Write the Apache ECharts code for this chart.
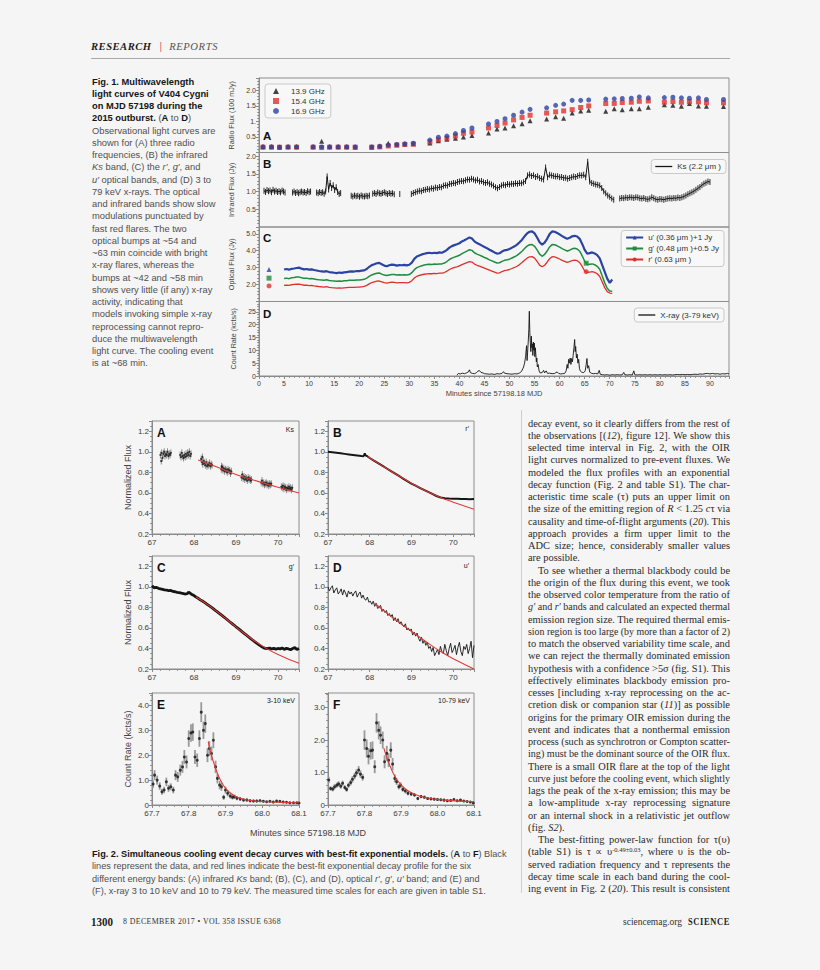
<!DOCTYPE html>
<html>
<head>
<meta charset="utf-8">
<title>V404 Cygni multiwavelength light curves</title>
<script src="https://cdn.jsdelivr.net/npm/echarts@6/dist/echarts.min.js"></script>
<style>
  html, body { margin:0; padding:0; background:#f5f5f5; }
  #page { position:relative; width:820px; height:970px; overflow:hidden; background:#f5f5f5; }
  #chart { position:absolute; left:0; top:0; width:820px; height:970px; }
  .blk { position:absolute; transform-origin:0 0; }
  .ln { white-space:nowrap; height:12.26px; line-height:12.26px; }
  .ln > span { display:inline-block; white-space:nowrap; transform-origin:0 50%; }
  .cap { font-family:"Liberation Sans", Arial, sans-serif; font-size:9.6px; color:#505050; }
  .cap b { color:#161616; }
  .body { font-family:"Liberation Serif", "Times New Roman", serif; font-size:10.4px; color:#2b2b2b; width:202px; }
  sup { font-size:6.5px; line-height:0; vertical-align:3.5px; }
</style>
</head>
<body>
<div id="page">
  <div id="chart"></div>
</div>
<script>
// ======================= DATA =======================
// Fig. 1A radio light curves (100 mJy)
const radioTime = [0.8,2.5,4.1,5.8,7.5, 10.8,12.5,14.1,15.8,17.5,19.2, 22.5,24.1,25.8,27.5,29.1,30.8,
  34.1,35.8,37.5,39.2,40.8,42.5, 45.8,47.5,49.1,50.8,52.5,54.1, 57.4,59.2,60.8,62.5,64.2,65.8,
  69.2,70.9,72.5,74.3,75.9,77.7, 80.9,82.6,84.3,85.9,87.7,89.3, 92.7];
const radio139 = [0.19,0.19,0.18,0.19,0.19, 0.19,0.36,0.19,0.19,0.19,0.18, 0.18,0.21,0.30,0.25,0.27,0.28,
  0.31,0.38,0.43,0.46,0.50,0.55, 0.63,0.76,0.79,0.86,0.93,1.02, 1.08,1.15,1.10,1.27,1.34,1.36,
  1.33,1.41,1.38,1.41,1.41,1.46, 1.54,1.52,1.49,1.58,1.50,1.49, 1.48];
const radio154 = [0.17,0.17,0.17,0.17,0.17, 0.17,0.16,0.17,0.17,0.17,0.17, 0.17,0.18,0.21,0.24,0.26,0.27,
  0.34,0.41,0.46,0.53,0.62,0.66, 0.79,0.87,0.95,1.05,1.13,1.20, 1.27,1.31,1.34,1.38,1.45,1.50,
  1.58,1.58,1.61,1.62,1.65,1.66, 1.62,1.64,1.62,1.64,1.63,1.60, 1.60];
const radio169 = [0.18,0.18,0.17,0.18,0.18, 0.18,0.18,0.18,0.18,0.18,0.18, 0.18,0.20,0.24,0.26,0.28,0.30,
  0.40,0.49,0.53,0.61,0.71,0.79, 0.92,1.00,1.09,1.20,1.30,1.39, 1.44,1.52,1.56,1.68,1.68,1.69,
  1.72,1.73,1.74,1.75,1.79,1.76, 1.77,1.78,1.76,1.75,1.76,1.71, 1.71];

// Fig. 1B infrared Ks (Jy): observing segments (start minute, sampling step, fluxes)
const ksSegStart = [1.0, 6.7, 11.5, 18.4, 22.7, 28.1, 30.4, 72.0];
const ksSegStep  = [0.3, 0.3, 0.3, 0.33, 0.33, 0.3, 0.4, 0.4];
const ksSegFlux  = [
  [1.02,0.99,1.04,1.01,1.03,0.98,1.05,1.00,1.02,0.99,1.01,0.98,1.03,1.00,0.97],
  [0.97,1.00,0.96,0.99,0.95,0.98,1.00,0.97,0.99,0.96,1.01,0.98,1.00],
  [0.97,0.95,0.99,0.96,0.98,0.94,1.00,1.42,1.06,1.24,1.10,1.18,1.04,1.12,0.99,0.93,0.96],
  [0.88,0.86,0.89,0.87,0.88,0.85,0.89,0.87,0.86,0.88,0.87,0.89],
  [0.94,0.96,0.93,0.97,0.95,0.94,0.96,0.98,0.95,0.93,0.96,0.94,0.95,0.92],
  [0.93],
  [0.93,0.96,0.98,1.00,1.02,1.01,1.04,1.05,1.07,1.06,
   1.09,1.08,1.11,1.10,1.13,1.12,1.16,1.18,1.17,1.21,
   1.22,1.24,1.23,1.27,1.28,1.30,1.29,1.32,1.34,1.33,
   1.36,1.34,1.31,1.33,1.28,1.30,1.26,1.24,1.26,1.22,
   1.20,1.16,1.12,1.09,1.13,1.17,1.19,1.18,1.21,1.20,
   1.22,1.21,1.23,1.22,1.24,1.23,1.26,1.30,1.45,1.48,
   1.44,1.46,1.41,1.43,1.38,1.36,1.34,1.68,1.40,1.47,
   1.45,1.44,1.42,1.43,1.40,1.41,1.38,1.39,1.36,1.38,
   1.40,1.42,1.41,1.44,1.46,1.45,1.47,1.40,1.84,1.28,
   1.24,1.22,1.20,1.19,1.17,1.10,1.01,0.95,0.89,0.85,
   0.80,0.77],
  [0.80,0.82,0.81,0.83,0.82,0.84,0.83,0.82,0.84,0.83,
   0.81,0.80,0.82,0.79,0.78,0.80,0.84,0.81,0.78,0.77,
   0.79,0.78,0.77,0.79,0.80,0.81,0.80,0.82,0.81,0.83,
   0.82,0.84,0.86,0.89,0.92,0.95,0.98,1.01,1.05,1.09,
   1.13,1.18,1.22,1.25,1.28,1.27]
];

// Fig. 1C optical (Jy, offsets included), sampled every 0.5 min from 5.0 min
const optStart = 5.0, optStep = 0.5;
const optU = [2.89,2.92,2.88,2.93,2.95,2.98,3.00,2.94,2.90,2.92,
  2.88,2.90,2.86,2.83,2.80,2.78,2.76,2.79,2.74,2.72,
  2.70,2.68,2.71,2.69,2.72,2.74,2.76,2.78,2.77,2.80,
  2.79,2.82,2.84,2.92,3.05,3.15,3.20,3.26,3.28,3.20,
  3.12,3.08,3.14,3.18,3.16,3.12,3.15,3.14,3.16,3.13,
  3.17,3.30,3.52,3.66,3.72,3.78,3.82,3.86,3.88,3.85,
  3.88,3.86,3.90,3.88,3.95,4.05,4.18,4.27,4.33,4.38,
  4.44,4.55,4.62,4.70,4.78,4.72,4.55,4.45,4.38,4.30,
  4.22,4.15,4.06,3.98,3.90,3.83,3.85,3.95,4.02,4.05,
  4.10,4.18,4.26,4.36,4.50,4.65,4.85,5.02,5.12,5.14,
  5.02,4.78,4.50,4.36,4.48,4.70,4.98,5.14,5.12,5.05,
  4.96,4.86,4.78,4.70,4.76,4.85,4.88,4.84,4.70,4.40,
  4.05,3.82,3.86,3.90,3.84,3.74,3.55,3.15,2.75,2.35,
  2.10,2.30];
const optG = [2.36,2.38,2.35,2.40,2.42,2.45,2.44,2.40,2.37,2.38,
  2.35,2.36,2.33,2.30,2.28,2.27,2.25,2.28,2.24,2.22,
  2.21,2.20,2.21,2.20,2.22,2.23,2.25,2.26,2.26,2.27,
  2.27,2.29,2.31,2.38,2.48,2.57,2.62,2.67,2.68,2.62,
  2.56,2.53,2.57,2.60,2.59,2.56,2.58,2.57,2.58,2.56,
  2.59,2.70,2.88,3.00,3.06,3.11,3.15,3.18,3.20,3.19,
  3.21,3.20,3.22,3.22,3.27,3.36,3.48,3.56,3.62,3.67,
  3.73,3.83,3.90,3.98,4.06,4.02,3.88,3.80,3.74,3.67,
  3.60,3.54,3.46,3.40,3.33,3.27,3.29,3.37,3.43,3.46,
  3.50,3.57,3.64,3.72,3.84,3.97,4.13,4.27,4.35,4.36,
  4.26,4.05,3.80,3.67,3.78,3.98,4.22,4.36,4.35,4.29,
  4.21,4.12,4.05,3.98,4.03,4.11,4.14,4.10,3.97,3.70,
  3.38,3.18,3.20,3.22,3.17,3.08,2.90,2.50,2.10,1.78,
  1.62,1.60];
const optR = [1.95,1.97,1.95,1.99,2.01,2.03,2.02,1.99,1.96,1.97,
  1.94,1.95,1.92,1.90,1.88,1.87,1.85,1.88,1.84,1.82,
  1.81,1.79,1.80,1.79,1.81,1.82,1.83,1.84,1.84,1.85,
  1.85,1.87,1.89,1.95,2.04,2.12,2.16,2.20,2.21,2.16,
  2.11,2.08,2.11,2.14,2.13,2.10,2.12,2.11,2.12,2.10,
  2.13,2.23,2.39,2.49,2.54,2.58,2.61,2.63,2.65,2.64,
  2.66,2.65,2.67,2.67,2.71,2.79,2.89,2.96,3.01,3.05,
  3.10,3.18,3.24,3.30,3.36,3.33,3.21,3.14,3.09,3.03,
  2.97,2.91,2.85,2.79,2.73,2.67,2.69,2.77,2.82,2.85,
  2.89,2.95,3.01,3.08,3.18,3.30,3.44,3.56,3.64,3.65,
  3.56,3.37,3.15,3.05,3.14,3.32,3.53,3.65,3.64,3.58,
  3.51,3.43,3.37,3.31,3.35,3.42,3.45,3.41,3.30,3.07,
  2.80,2.72,2.74,2.76,2.72,2.64,2.48,2.15,1.82,1.58,
  1.50,1.48];
const uMarks = [[2.0, 2.89]];
const gMarks = [[2.0, 2.38], [65.3, 3.26]];
const rMarks = [[2.0, 1.92], [65.3, 2.76]];

// Fig. 1D x-ray 3-79 keV count rate (kcts/s): [minute, rate]
const xrayCurve = [
[39.5,0.3],[39.8,1.0],[40.2,0.8],[40.6,1.1],[41.0,0.9],[41.4,1.2],[41.8,1.6],[42.0,2.4],[42.2,1.3],[42.6,1.0],
[43.0,0.9],[43.4,1.3],[43.7,1.9],[44.0,2.1],[44.3,1.4],[44.7,1.2],[45.0,0.9],[45.5,0.8],[46.0,0.7],[46.5,0.8],
[47.0,0.6],[47.5,0.9],[48.0,0.8],[48.5,1.0],[48.8,1.7],[49.0,1.1],[49.5,0.9],[50.0,0.8],[50.5,0.7],[51.0,0.9],
[51.5,0.8],[52.0,1.2],[52.4,1.8],[52.8,3.5],[53.0,5.0],[53.2,7.5],[53.4,11.8],[53.5,6.0],[53.6,9.0],[53.75,14.0],
[53.85,18.0],[53.95,25.2],[54.05,17.0],[54.15,13.0],[54.25,9.5],[54.35,15.5],[54.45,11.0],[54.55,12.5],[54.65,8.0],[54.75,13.2],
[54.85,10.0],[54.95,12.8],[55.05,7.5],[55.15,11.0],[55.25,8.5],[55.35,5.5],[55.45,7.0],[55.55,3.5],[55.7,4.5],[55.9,2.0],
[56.1,1.2],[56.5,1.3],[56.8,2.2],[57.0,1.2],[57.3,2.0],[57.6,1.0],[58.0,1.1],[58.5,0.9],[59.0,1.0],[59.5,1.6],
[59.8,1.0],[60.2,0.8],[60.6,0.9],[61.0,1.0],[61.3,2.0],[61.5,4.5],[61.65,3.0],[61.8,6.5],[61.95,5.0],[62.1,7.0],
[62.25,4.5],[62.4,6.8],[62.55,5.5],[62.7,8.0],[62.85,11.0],[63.0,14.2],[63.1,9.5],[63.2,11.5],[63.35,7.0],[63.5,8.5],
[63.65,5.0],[63.8,6.5],[63.95,3.0],[64.1,2.0],[64.4,1.5],[64.8,1.3],[65.1,2.0],[65.3,4.5],[65.45,6.8],[65.6,3.0],
[65.8,4.0],[66.0,1.5],[66.4,1.0],[66.8,0.9],[67.2,1.0],[67.6,0.8],[67.9,2.2],[68.1,0.7],[68.5,0.5],[69.0,0.4],
[69.5,0.5],[70.0,0.3],[70.5,0.5],[71.0,0.4],[71.5,0.5],[72.0,0.4],[72.5,0.5],[72.8,1.4],[73.0,0.5],[73.5,0.4],
[74.0,0.5],[74.5,0.4],[74.8,2.0],[75.0,0.5],[75.5,0.4],[76.0,0.5],[76.5,0.4],[77.0,0.5],[77.5,0.4],[78.0,0.5],
[78.5,0.4],[79.0,0.5],[79.5,0.4],[80.0,0.5],[80.5,0.4],[81.0,0.5],[81.5,0.4],[82.0,0.5],[82.5,0.4],[83.0,0.5],
[83.5,0.6],[84.0,0.5],[84.5,0.6],[85.0,0.5],[85.5,0.6],[86.0,0.5],[86.5,0.6],[87.0,0.7],[87.5,0.6],[88.0,0.8],
[88.5,0.7],[89.0,0.9],[89.5,1.0],[90.0,0.8],[90.5,1.0],[91.0,0.8],[91.5,0.9],[92.0,0.7],[92.5,0.9],[93.0,0.8],
[93.5,1.0],[93.8,0.8]];

// Fig. 2A Ks normalized flux: [minute, flux]
const ksDecay = [
[67.20,0.97],[67.22,0.91],[67.23,0.99],[67.25,0.94],[67.27,0.98],[67.29,1.00],[67.31,0.96],[67.33,0.98],[67.35,0.97],[67.37,1.00],[67.39,0.96],[67.41,0.98],[67.43,0.97],[67.45,0.99],
[67.67,0.97],[67.69,0.95],[67.71,0.99],[67.73,0.96],[67.75,0.94],[67.77,0.97],[67.79,0.95],[67.81,0.98],[67.83,0.96],[67.85,0.99],[67.87,0.97],[67.89,1.00],[67.91,0.96],[67.93,0.98],
[68.17,0.93],[68.19,0.90],[68.20,0.95],[68.21,0.88],[68.23,0.91],[68.25,0.89],[68.27,0.87],[68.29,0.90],[68.31,0.86],[68.33,0.88],[68.35,0.87],[68.37,0.89],[68.39,0.86],[68.41,0.88],[68.43,0.87],
[68.65,0.83],[68.66,0.86],[68.67,0.85],[68.69,0.82],[68.71,0.84],[68.73,0.81],[68.75,0.83],[68.77,0.82],[68.79,0.80],[68.81,0.83],[68.83,0.81],[68.85,0.82],[68.87,0.79],[68.89,0.81],
[69.13,0.75],[69.15,0.78],[69.17,0.74],[69.19,0.76],[69.21,0.73],[69.23,0.75],[69.25,0.74],[69.27,0.72],[69.29,0.75],[69.31,0.73],[69.33,0.74],[69.35,0.72],[69.37,0.73],
[69.60,0.70],[69.62,0.72],[69.64,0.69],[69.66,0.70],[69.68,0.68],[69.70,0.69],[69.72,0.70],[69.74,0.68],[69.76,0.69],[69.78,0.67],[69.80,0.69],[69.82,0.68],[69.84,0.69],
[70.08,0.66],[70.10,0.65],[70.12,0.67],[70.14,0.64],[70.16,0.66],[70.18,0.65],[70.20,0.63],[70.22,0.65],[70.24,0.64],[70.26,0.66],[70.28,0.64],[70.30,0.65],[70.32,0.63],[70.34,0.65]];
const ksFit = [[68.1,0.92],[68.5,0.86],[69.0,0.78],[69.5,0.715],[70.0,0.655],[70.5,0.60]];

// Fig. 2B r' normalized flux
const rDecay = [[67.0,1.00],[67.1,0.995],[67.2,0.99],[67.3,0.985],[67.4,0.98],[67.5,0.975],[67.6,0.97],[67.7,0.965],[67.8,0.96],[67.85,0.958],
[67.87,0.97],[67.88,0.985],[67.9,0.965],[67.95,0.955],[68.0,0.94],[68.1,0.915],[68.2,0.89],[68.3,0.865],[68.4,0.84],[68.5,0.815],
[68.6,0.79],[68.7,0.765],[68.8,0.74],[68.9,0.715],[69.0,0.69],[69.1,0.67],[69.2,0.65],[69.3,0.63],[69.4,0.61],[69.5,0.59],
[69.6,0.57],[69.7,0.555],[69.8,0.548],[69.9,0.545],[70.0,0.543],[70.1,0.542],[70.2,0.540],[70.3,0.541],[70.4,0.539],[70.5,0.540]];
const rFit = [[67.95,0.955],[68.2,0.89],[68.5,0.815],[68.8,0.742],[69.1,0.672],[69.4,0.61],[69.7,0.555],[70.0,0.51],[70.25,0.475],[70.5,0.44]];

// Fig. 2C g' normalized flux
const gDecay = [[67.00,1.01],[67.05,0.99],[67.10,0.995],[67.15,0.985],[67.20,0.98],[67.25,0.975],[67.30,0.97],[67.35,0.968],[67.40,0.962],[67.45,0.965],
[67.50,0.955],[67.55,0.952],[67.60,0.946],[67.65,0.943],[67.70,0.938],[67.75,0.934],[67.80,0.93],[67.84,0.934],[67.87,0.948],[67.90,0.94],
[67.95,0.925],[68.00,0.915],[68.05,0.90],[68.10,0.888],[68.15,0.873],[68.20,0.862],[68.25,0.848],[68.30,0.833],[68.35,0.82],[68.40,0.805],
[68.45,0.79],[68.50,0.773],[68.55,0.758],[68.60,0.742],[68.65,0.726],[68.70,0.71],[68.75,0.694],[68.80,0.677],[68.85,0.66],[68.90,0.644],
[68.95,0.628],[69.00,0.611],[69.05,0.595],[69.10,0.578],[69.15,0.561],[69.20,0.545],[69.25,0.529],[69.30,0.512],[69.35,0.496],[69.40,0.48],
[69.45,0.465],[69.50,0.449],[69.55,0.434],[69.60,0.42],[69.65,0.408],[69.70,0.40],[69.75,0.398],[69.80,0.404],[69.85,0.395],[69.90,0.401],
[69.95,0.393],[70.00,0.40],[70.05,0.396],[70.10,0.404],[70.15,0.391],[70.20,0.401],[70.25,0.395],[70.30,0.388],[70.35,0.40],[70.40,0.408],
[70.45,0.39],[70.50,0.40]];
const gFit = [[68.05,0.90],[68.4,0.805],[68.8,0.677],[69.2,0.545],[69.6,0.43],[70.0,0.34],[70.5,0.255]];

// Fig. 2D u' normalized flux, sampled every 0.035 min from 67.0
const uStart = 67.0, uStep = 0.035;
const uDecay = [1.00,0.96,0.99,1.01,0.94,0.97,0.99,0.93,0.95,0.98,
  0.92,0.97,0.94,0.90,0.96,0.93,0.95,0.91,0.94,0.96,
  0.90,0.93,0.95,0.89,0.92,0.88,0.87,0.90,0.85,0.86,
  0.83,0.86,0.81,0.84,0.79,0.80,0.82,0.76,0.78,0.75,
  0.77,0.72,0.74,0.71,0.73,0.67,0.70,0.66,0.69,0.64,
  0.66,0.63,0.61,0.64,0.58,0.60,0.57,0.59,0.53,0.56,
  0.52,0.55,0.50,0.47,0.51,0.45,0.48,0.43,0.46,0.40,
  0.42,0.37,0.41,0.33,0.36,0.39,0.34,0.42,0.37,0.35,
  0.44,0.38,0.33,0.40,0.45,0.36,0.39,0.43,0.34,0.41,
  0.46,0.37,0.33,0.42,0.39,0.44,0.35,0.40,0.47,0.31,
  0.43];
const uFit = [[68.12,0.84],[68.5,0.715],[68.9,0.595],[69.3,0.48],[69.7,0.37],[70.1,0.28],[70.5,0.20]];

// Fig. 2E x-ray 3-10 keV (kcts/s)
const eTime = [67.703,67.707,67.714,67.721,67.727,67.733,67.739,67.745,67.751,67.758,
  67.764,67.770,67.777,67.783,67.788,67.794,67.800,67.806,67.811,67.817,
  67.823,67.829,67.834,67.840,67.845,67.851,67.856,67.862,67.867,67.873,
  67.878,67.884,67.889,67.895,67.900,67.906,67.913,67.919,67.924,67.931,
  67.940,67.949,67.958,67.967,67.976,67.985,67.994,68.003,68.012,68.021,
  68.030,68.039,68.048,68.057,68.066,68.075,68.085,68.094,68.100];
const eRate = [0.84,1.20,1.00,0.76,0.53,0.60,0.93,0.67,0.73,0.60,
  1.20,1.13,1.40,1.53,1.93,1.73,2.67,2.89,2.93,1.93,
  1.80,2.67,3.73,3.00,3.27,2.00,2.27,2.07,2.60,1.53,
  1.07,0.80,0.73,0.31,0.60,0.47,0.36,0.31,0.33,0.27,
  0.24,0.20,0.20,0.17,0.16,0.16,0.17,0.15,0.13,0.15,
  0.12,0.16,0.15,0.12,0.11,0.09,0.09,0.09,0.08];
const eErr = [0.15,0.20,0.18,0.15,0.12,0.13,0.17,0.14,0.14,0.13,
  0.20,0.20,0.22,0.24,0.28,0.26,0.33,0.35,0.35,0.28,
  0.27,0.33,0.40,0.35,0.37,0.28,0.30,0.28,0.32,0.25,
  0.20,0.17,0.16,0.10,0.14,0.12,0.10,0.09,0.09,0.08,
  0.08,0.07,0.07,0.06,0.06,0.06,0.06,0.05,0.05,0.05,
  0.05,0.05,0.05,0.05,0.04,0.04,0.04,0.04,0.04];
const eFit = [[67.853,2.55],[67.86,2.1],[67.87,1.6],[67.88,1.2],[67.89,0.9],[67.9,0.68],[67.915,0.46],[67.93,0.33],[67.95,0.23],[67.98,0.16],[68.02,0.12],[68.06,0.10],[68.1,0.09]];

// Fig. 2F x-ray 10-79 keV (kcts/s)
const fTime = [67.702,67.707,67.713,67.718,67.724,67.729,67.735,67.740,67.746,67.751,
  67.756,67.762,67.767,67.773,67.778,67.784,67.789,67.795,67.800,67.806,
  67.811,67.817,67.822,67.828,67.833,67.839,67.844,67.850,67.855,67.861,
  67.866,67.872,67.877,67.883,67.888,67.894,67.899,67.905,67.912,67.919,
  67.928,67.937,67.946,67.955,67.964,67.973,67.982,67.991,68.000,68.009,
  68.018,68.027,68.036,68.045,68.054,68.063,68.072,68.081,68.090,68.098];
const fRate = [0.77,0.51,0.49,0.56,0.61,0.65,0.58,0.67,0.54,0.48,
  0.61,0.69,0.79,0.89,0.99,1.08,0.95,0.85,2.00,1.74,
  1.50,1.67,1.69,1.18,2.53,2.30,2.15,2.00,1.33,1.59,
  1.38,1.69,1.26,0.82,0.72,0.56,0.61,0.48,0.43,0.36,
  0.34,0.31,0.20,0.26,0.24,0.20,0.19,0.18,0.17,0.16,
  0.15,0.13,0.14,0.17,0.13,0.15,0.12,0.11,0.09,0.06];
const fErr = [0.10,0.07,0.07,0.08,0.08,0.08,0.08,0.08,0.07,0.07,
  0.08,0.09,0.10,0.10,0.11,0.12,0.11,0.10,0.30,0.28,
  0.25,0.27,0.27,0.20,0.30,0.28,0.27,0.26,0.20,0.23,
  0.21,0.24,0.19,0.12,0.10,0.08,0.09,0.07,0.07,0.06,
  0.06,0.05,0.05,0.05,0.05,0.04,0.04,0.04,0.04,0.04,
  0.04,0.04,0.04,0.04,0.04,0.04,0.03,0.03,0.03,0.03];
const fFit = [[67.853,1.75],[67.86,1.5],[67.87,1.2],[67.88,0.95],[67.89,0.76],[67.9,0.62],[67.915,0.47],[67.93,0.37],[67.95,0.28],[67.98,0.20],[68.02,0.15],[68.06,0.12],[68.1,0.10]];

// Tick labels
const timeTicks1 = [0,5,10,15,20,25,30,35,40,45,50,55,60,65,70,75,80,85,90];
const radioTicks = [0.5,1,1.5,2];       const radioTickText = ['0.5','1.','1.5','2.0'];
const irTicks = [0.5,1,1.5,2];          const irTickText = ['0.5','1.0','1.5','2.0'];
const optTicks = [2,3,4,5];             const optTickText = ['2.0','3.0','4.0','5.0'];
const xrTicks = [0,5,10,15,20,25];      const xrTickText = ['0','5','10','15','20','25'];
const normTicks = [0.2,0.4,0.6,0.8,1.0,1.2]; const normTickText = ['0.2','0.4','0.6','0.8','1.0','1.2'];
const decayTimeTicks = [67,68,69,70];   const decayTimeText = ['67','68','69','70'];
const xrayTimeTicks = [67.7,67.8,67.9,68.0,68.1]; const xrayTimeText = ['67.7','67.8','67.9','68.0','68.1'];
const eTicks = [0,1,2,3,4];             const eTickText = ['0','1.0','2.0','3.0','4.0'];
const fTicks = [0,1,2,3];               const fTickText = ['0','1.0','2.0','3.0'];

// Texts
const headerLeft = 'RESEARCH', headerRight = 'REPORTS';
const fig1Caption = [
  '<b>Fig. 1. Multiwavelength</b>',
  '<b>light curves of V404 Cygni</b>',
  '<b>on MJD 57198 during the</b>',
  '<b>2015 outburst.</b> (<b>A</b> to <b>D</b>)',
  'Observational light curves are',
  'shown for (A) three radio',
  'frequencies, (B) the infrared',
  '<i>Ks</i> band, (C) the <i>r′</i>, <i>g′</i>, and',
  '<i>u′</i> optical bands, and (D) 3 to',
  '79 keV x-rays. The optical',
  'and infrared bands show slow',
  'modulations punctuated by',
  'fast red flares. The two',
  'optical bumps at ~54 and',
  '~63 min coincide with bright',
  'x-ray flares, whereas the',
  'bumps at ~42 and ~58 min',
  'shows very little (if any) x-ray',
  'activity, indicating that',
  'models invoking simple x-ray',
  'reprocessing cannot repro-',
  'duce the multiwavelength',
  'light curve. The cooling event',
  'is at ~68 min.'
];
const fig2Caption = [
  '<b>Fig. 2. Simultaneous cooling event decay curves with best-fit exponential models.</b> (<b>A</b> to <b>F</b>) Black',
  'lines represent the data, and red lines indicate the best-fit exponential decay profile for the six',
  'different energy bands: (A) infrared <i>Ks</i> band; (B), (C), and (D), optical <i>r′</i>, <i>g′</i>, <i>u′</i> band; and (E) and',
  '(F), x-ray 3 to 10 keV and 10 to 79 keV. The measured time scales for each are given in table S1.'
];
const bodyLines = [
  'decay event, so it clearly differs from the rest of',
  'the observations [(<i>12</i>), figure 12]. We show this',
  'selected time interval in Fig. 2, with the OIR',
  'light curves normalized to pre-event fluxes. We',
  'modeled the flux profiles with an exponential',
  'decay function (Fig. 2 and table S1). The char-',
  'acteristic time scale (τ) puts an upper limit on',
  'the size of the emitting region of <i>R</i> &lt; 1.25 <i>c</i>τ via',
  'causality and time-of-flight arguments (<i>20</i>). This',
  'approach provides a firm upper limit to the',
  'ADC size; hence, considerably smaller values',
  'are possible.',
  'To see whether a thermal blackbody could be',
  'the origin of the flux during this event, we took',
  'the observed color temperature from the ratio of',
  '<i>g′</i> and <i>r′</i> bands and calculated an expected thermal',
  'emission region size. The required thermal emis-',
  'sion region is too large (by more than a factor of 2)',
  'to match the observed variability time scale, and',
  'we can reject the thermally dominated emission',
  'hypothesis with a confidence &gt;5σ (fig. S1). This',
  'effectively eliminates blackbody emission pro-',
  'cesses [including x-ray reprocessing on the ac-',
  'cretion disk or companion star (<i>11</i>)] as possible',
  'origins for the primary OIR emission during the',
  'event and indicates that a nonthermal emission',
  'process (such as synchrotron or Compton scatter-',
  'ing) must be the dominant source of the OIR flux.',
  'There is a small OIR flare at the top of the light',
  'curve just before the cooling event, which slightly',
  'lags the peak of the x-ray emission; this may be',
  'a low-amplitude x-ray reprocessing signature',
  'or an internal shock in a relativistic jet outflow',
  '(fig. <i>S2</i>).',
  'The best-fitting power-law function for τ(υ)',
  '(table S1) is τ ∝ υ<sup>-0.49±0.03</sup>, where υ is the ob-',
  'served radiation frequency and τ represents the',
  'decay time scale in each band during the cool-',
  'ing event in Fig. 2 (<i>20</i>). This result is consistent'
];
const bodyIndented = [12, 34];
const bodyParagraphEnds = [11, 33];

// ======================= TEXT LAYOUT =======================
const page = document.getElementById('page');
function el(tag, css, html) {
  const d = document.createElement(tag);
  d.style.cssText = css; if (html !== undefined) d.innerHTML = html;
  page.appendChild(d); return d;
}
function block(lines, cls, left, top) {
  const b = document.createElement('div');
  b.className = 'blk ' + cls; b.style.left = left + 'px'; b.style.top = top + 'px';
  const spans = [];
  lines.forEach(h => {
    const ln = document.createElement('div'); ln.className = 'ln';
    const sp = document.createElement('span'); sp.innerHTML = h;
    ln.appendChild(sp); b.appendChild(ln); spans.push(sp);
  });
  page.appendChild(b);
  return spans;
}
function fitRagged(spans, target) {
  let m = 0; spans.forEach(s => { m = Math.max(m, s.getBoundingClientRect().width); });
  const k = target / m; spans.forEach(s => { s.style.transform = 'scaleX(' + k + ')'; });
}
function fitOne(node, target) {
  const w = node.getBoundingClientRect().width;
  node.style.transform = 'scaleX(' + (target / w) + ')';
}

// header
el('div', 'position:absolute;left:91px;top:40px;height:14px;line-height:14px;white-space:nowrap;font-family:"Liberation Serif",serif;font-size:10.6px;',
  '<span style="display:inline-block;font-weight:bold;font-style:italic;letter-spacing:0.5px;color:#1e1e1e">' + headerLeft + '</span>' +
  '<span style="display:inline-block;color:#d9646a;margin:0 7px 0 8px;font-family:\'Liberation Sans\',sans-serif;font-size:10px">|</span>' +
  '<span style="display:inline-block;font-style:italic;letter-spacing:0.6px;color:#555">' + headerRight + '</span>');
el('div', 'position:absolute;left:91px;top:58px;width:639px;height:0;border-top:1.6px solid #a8a8a8');
// divider beside the body column
el('div', 'position:absolute;left:521px;top:410px;width:0;height:483px;border-left:1px solid #cfcfcf');

const cap1 = block(fig1Caption, 'cap', 91.5, 75.6);
const cap2 = block(fig2Caption, 'cap', 91.5, 848);
cap2.forEach(s => { s.style.fontSize = '9.8px'; });
const body = block(bodyLines, 'body', 528, 417.5);

// footer
const ft1 = el('div', 'position:absolute;left:91px;top:915px;height:14px;line-height:14px;white-space:nowrap;font-family:"Liberation Serif",serif;font-weight:bold;font-size:12px;color:#1e1e1e;transform-origin:0 50%', '1300');
const ft2 = el('div', 'position:absolute;left:123px;top:915px;height:14px;line-height:14px;white-space:nowrap;font-family:"Liberation Serif",serif;font-size:7.8px;letter-spacing:0.4px;color:#333;transform-origin:0 50%', '8 DECEMBER 2017 • VOL 358 ISSUE 6368');
const ft3 = el('div', 'position:absolute;left:623px;top:915px;height:14px;line-height:14px;white-space:nowrap;font-family:"Liberation Serif",serif;font-size:9.6px;color:#333;transform-origin:0 50%', 'sciencemag.org');
const ft4 = el('div', 'position:absolute;left:688px;top:915px;height:14px;line-height:14px;white-space:nowrap;font-family:"Liberation Serif",serif;font-weight:bold;font-size:9.6px;letter-spacing:0.7px;color:#1e1e1e;transform-origin:0 50%', 'SCIENCE');

function layoutText() {
  fitRagged(cap1, 123.5);
  fitRagged(cap2, 414.5);
  body.forEach((sp, i) => {
    const indent = bodyIndented.indexOf(i) >= 0 ? 10 : 0;
    sp.style.marginLeft = indent + 'px';
    const target = 202 - indent;
    const w = sp.getBoundingClientRect().width;
    if (w > target) { sp.style.transform = 'scaleX(' + (target / w) + ')'; }
    else if (bodyParagraphEnds.indexOf(i) < 0) {
      const n = (sp.textContent.match(/ /g) || []).length;
      if (n > 0) sp.style.wordSpacing = ((target - w) / n) + 'px';
    }
  });
  fitOne(ft1, 22); fitOne(ft2, 158); fitOne(ft3, 59); fitOne(ft4, 42);
}
layoutText();

// ======================= CHART =======================
const AXC = '#8a8a8a', LBC = '#3c3c3c';
const FONT = '"Liberation Sans", Arial, sans-serif';
const NARROW = '"Liberation Sans Narrow", "Liberation Sans", Arial, sans-serif';
function labelFn(vals, texts) {
  return function (v) {
    for (let i = 0; i < vals.length; i++) if (Math.abs(v - vals[i]) < 1e-6) return texts[i];
    return '';
  };
}
function yAx(gi, min, max, interval, vals, texts, minorSplit, name, nameGap, fs, nfs) {
  return {
    gridIndex: gi, type: 'value', min: min, max: max, interval: interval,
    axisLine: { show: true, onZero: false, lineStyle: { color: AXC, width: 1 } },
    axisTick: { show: true, length: 3, inside: false, lineStyle: { color: AXC } },
    minorTick: { show: true, splitNumber: minorSplit, length: 1.8, lineStyle: { color: AXC } },
    splitLine: { show: false }, minorSplitLine: { show: false },
    axisLabel: { fontSize: fs, color: LBC, margin: 3, fontFamily: FONT, formatter: labelFn(vals, texts), hideOverlap: false },
    name: name || '', nameLocation: 'middle', nameGap: nameGap, nameRotate: 90,
    nameTextStyle: { fontSize: nfs, color: '#444', fontFamily: FONT }
  };
}
function xAx(gi, min, max, interval, vals, texts, show, fs, name, nameGap, nfs) {
  return {
    gridIndex: gi, type: 'value', min: min, max: max, interval: interval,
    axisLine: { show: show, onZero: false, lineStyle: { color: AXC, width: 1 } },
    axisTick: { show: show, length: 3, lineStyle: { color: AXC } },
    minorTick: { show: show, splitNumber: 5, length: 1.8, lineStyle: { color: AXC } },
    splitLine: { show: false }, minorSplitLine: { show: false },
    axisLabel: { show: show, fontSize: fs, color: LBC, margin: 4, fontFamily: FONT, formatter: labelFn(vals, texts), hideOverlap: false },
    name: name || '', nameLocation: 'middle', nameGap: nameGap || 15,
    nameTextStyle: { fontSize: nfs || 8, color: '#444', fontFamily: FONT }
  };
}

const gridBoxes = [
  { left: 259, top: 78, width: 470, height: 74.5 },
  { left: 259, top: 152.5, width: 470, height: 74.5 },
  { left: 259, top: 227, width: 470, height: 74.5 },
  { left: 259, top: 301.5, width: 470, height: 74.5 },
  { left: 152, top: 421, width: 147, height: 113 },
  { left: 328, top: 421, width: 146, height: 113 },
  { left: 152, top: 556, width: 147, height: 113 },
  { left: 328, top: 556, width: 146, height: 113 },
  { left: 152, top: 693, width: 147, height: 112 },
  { left: 328, top: 693, width: 146, height: 112 }
].map(g => Object.assign({ show: true, borderColor: '#8d8d8d', borderWidth: 1, backgroundColor: 'transparent', containLabel: false, outerBoundsMode: 'none' }, g));

const timeText1 = timeTicks1.map(String);
const xAxes = [
  xAx(0, 0, 93.8, 5, timeTicks1, timeText1, false, 7),
  xAx(1, 0, 93.8, 5, timeTicks1, timeText1, false, 7),
  xAx(2, 0, 93.8, 5, timeTicks1, timeText1, false, 7),
  xAx(3, 0, 93.8, 5, timeTicks1, timeText1, true, 7, 'Minutes since 57198.18 MJD', 13, 7.5),
  xAx(4, 67, 70.5, 1, decayTimeTicks, decayTimeText, true, 8),
  xAx(5, 67, 70.5, 1, decayTimeTicks, decayTimeText, true, 8),
  xAx(6, 67, 70.5, 1, decayTimeTicks, decayTimeText, true, 8),
  xAx(7, 67, 70.5, 1, decayTimeTicks, decayTimeText, true, 8),
  xAx(8, 67.7, 68.1, 0.1, xrayTimeTicks, xrayTimeText, true, 8),
  xAx(9, 67.7, 68.1, 0.1, xrayTimeTicks, xrayTimeText, true, 8)
];
const yAxes = [
  yAx(0, 0, 2.4, 0.5, radioTicks, radioTickText, 5, 'Radio Flux (100 mJy)', 21, 7, 7.2),
  yAx(1, 0, 2.1, 0.5, irTicks, irTickText, 5, 'Infrared Flux (Jy)', 21, 7, 7.2),
  yAx(2, 1, 5.4, 1, optTicks, optTickText, 5, 'Optical Flux (Jy)', 21, 7, 7.2),
  yAx(3, 0, 29, 5, xrTicks, xrTickText, 5, 'Count Rate (kcts/s)', 21, 7, 7.2),
  yAx(4, 0.2, 1.3, 0.2, normTicks, normTickText, 4, 'Normalized Flux', 20, 8, 9),
  yAx(5, 0.2, 1.3, 0.2, normTicks, normTickText, 4, '', 20, 8, 9),
  yAx(6, 0.2, 1.3, 0.2, normTicks, normTickText, 4, 'Normalized Flux', 20, 8, 9),
  yAx(7, 0.2, 1.3, 0.2, normTicks, normTickText, 4, '', 20, 8, 9),
  yAx(8, 0, 4.5, 1, eTicks, eTickText, 5, 'Count Rate (kcts/s)', 20, 8, 9),
  yAx(9, 0, 3.45, 1, fTicks, fTickText, 5, '', 20, 8, 9)
];

// build data tables from the named arrays
const ksData = [];
ksSegFlux.forEach((seg, k) => {
  seg.forEach((v, i) => ksData.push([ksSegStart[k] + i * ksSegStep[k], v]));
  ksData.push([ksSegStart[k] + seg.length * ksSegStep[k], '-']);
});
const optSeries = arr => arr.map((v, i) => [optStart + i * optStep, v]);
const uDecayData = uDecay.map((v, i) => [uStart + i * uStep, v]);
const zip3 = (t, v, e) => t.map((x, i) => [x, v[i], e[i]]);

const RED = '#e0302c', BLUE = '#2b44a3', GREEN = '#1f8c3f', BLACK = '#151515', FITRED = '#e23b35';

function errBars(xi, data) {
  return {
    type: 'custom', xAxisIndex: xi, yAxisIndex: xi, data: data, z: 2, silent: true,
    encode: { x: 0, y: 1 },
    renderItem: function (params, api) {
      const x = api.value(0), v = api.value(1), e = api.value(2);
      const p1 = api.coord([x, v - e]), p2 = api.coord([x, v + e]);
      return { type: 'line', shape: { x1: p1[0], y1: p1[1], x2: p2[0], y2: p2[1] }, style: { stroke: '#9a9a9a', lineWidth: 1.8 } };
    }
  };
}

const series = [
  // Fig 1A
  { name: '13.9 GHz', type: 'scatter', xAxisIndex: 0, yAxisIndex: 0, symbol: 'triangle', symbolSize: 5, itemStyle: { color: BLACK }, data: radioTime.map((t, i) => [t, radio139[i]]), z: 3 },
  { name: '15.4 GHz', type: 'scatter', xAxisIndex: 0, yAxisIndex: 0, symbol: 'rect', symbolSize: 5, itemStyle: { color: RED }, data: radioTime.map((t, i) => [t, radio154[i]]), z: 4 },
  { name: '16.9 GHz', type: 'scatter', xAxisIndex: 0, yAxisIndex: 0, symbol: 'circle', symbolSize: 5, itemStyle: { color: BLUE }, data: radioTime.map((t, i) => [t, radio169[i]]), z: 5 },
  // Fig 1B
  { name: 'Ks (2.2 μm )', type: 'line', xAxisIndex: 1, yAxisIndex: 1, data: ksData, symbol: 'rect', symbolSize: [0.9, 6], showSymbol: true, showAllSymbol: true,
    lineStyle: { color: BLACK, width: 1 }, itemStyle: { color: BLACK }, connectNulls: false },
  // Fig 1C
  { name: "u' (0.36 μm )+1 Jy", type: 'line', xAxisIndex: 2, yAxisIndex: 2, data: optSeries(optU), symbol: 'triangle', symbolSize: 5, showSymbol: false,
    lineStyle: { color: BLUE, width: 2.2 }, itemStyle: { color: BLUE } },
  { name: "g' (0.48 μm )+0.5 Jy", type: 'line', xAxisIndex: 2, yAxisIndex: 2, data: optSeries(optG), symbol: 'rect', symbolSize: 5, showSymbol: false,
    lineStyle: { color: GREEN, width: 1.5 }, itemStyle: { color: GREEN } },
  { name: "r' (0.63 μm )", type: 'line', xAxisIndex: 2, yAxisIndex: 2, data: optSeries(optR), symbol: 'circle', symbolSize: 5, showSymbol: false,
    lineStyle: { color: RED, width: 1.3 }, itemStyle: { color: RED } },
  { type: 'scatter', xAxisIndex: 2, yAxisIndex: 2, symbol: 'triangle', symbolSize: 5, itemStyle: { color: BLUE }, data: uMarks, z: 5 },
  { type: 'scatter', xAxisIndex: 2, yAxisIndex: 2, symbol: 'rect', symbolSize: 5, itemStyle: { color: GREEN }, data: gMarks, z: 5 },
  { type: 'scatter', xAxisIndex: 2, yAxisIndex: 2, symbol: 'circle', symbolSize: 5, itemStyle: { color: RED }, data: rMarks, z: 5 },
  // Fig 1D
  { name: 'X-ray (3-79 keV)', type: 'line', xAxisIndex: 3, yAxisIndex: 3, data: xrayCurve, symbol: 'none', lineStyle: { color: BLACK, width: 0.9 }, itemStyle: { color: BLACK } },
  // Fig 2A
  { type: 'scatter', xAxisIndex: 4, yAxisIndex: 4, data: ksDecay, symbol: 'rect', symbolSize: [0.9, 7], itemStyle: { color: '#6a6a6a' }, z: 2 },
  { type: 'scatter', xAxisIndex: 4, yAxisIndex: 4, data: ksDecay, symbol: 'circle', symbolSize: 2.2, itemStyle: { color: BLACK }, z: 3 },
  { type: 'line', xAxisIndex: 4, yAxisIndex: 4, data: ksFit, smooth: true, symbol: 'none', lineStyle: { color: FITRED, width: 1.1 }, z: 4 },
  // Fig 2B
  { type: 'line', xAxisIndex: 5, yAxisIndex: 5, data: rDecay, symbol: 'none', lineStyle: { color: BLACK, width: 2 }, z: 2 },
  { type: 'line', xAxisIndex: 5, yAxisIndex: 5, data: rFit, smooth: true, symbol: 'none', lineStyle: { color: FITRED, width: 1.1 }, z: 4 },
  // Fig 2C
  { type: 'line', xAxisIndex: 6, yAxisIndex: 6, data: gDecay, symbol: 'none', lineStyle: { color: BLACK, width: 2.8 }, z: 2 },
  { type: 'line', xAxisIndex: 6, yAxisIndex: 6, data: gFit, smooth: true, symbol: 'none', lineStyle: { color: FITRED, width: 1.1 }, z: 4 },
  // Fig 2D
  { type: 'line', xAxisIndex: 7, yAxisIndex: 7, data: uDecayData, symbol: 'none', lineStyle: { color: BLACK, width: 0.9 }, z: 2 },
  { type: 'line', xAxisIndex: 7, yAxisIndex: 7, data: uFit, smooth: true, symbol: 'none', lineStyle: { color: FITRED, width: 1.1 }, z: 4 },
  // Fig 2E
  errBars(8, zip3(eTime, eRate, eErr)),
  { type: 'scatter', xAxisIndex: 8, yAxisIndex: 8, data: eTime.map((t, i) => [t, eRate[i]]), symbol: 'circle', symbolSize: 3, itemStyle: { color: BLACK }, z: 3 },
  { type: 'line', xAxisIndex: 8, yAxisIndex: 8, data: eFit, smooth: true, symbol: 'none', lineStyle: { color: FITRED, width: 1.1 }, z: 4 },
  // Fig 2F
  errBars(9, zip3(fTime, fRate, fErr)),
  { type: 'scatter', xAxisIndex: 9, yAxisIndex: 9, data: fTime.map((t, i) => [t, fRate[i]]), symbol: 'circle', symbolSize: 3, itemStyle: { color: BLACK }, z: 3 },
  { type: 'line', xAxisIndex: 9, yAxisIndex: 9, data: fFit, smooth: true, symbol: 'none', lineStyle: { color: FITRED, width: 1.1 }, z: 4 }
];

const legendBase = {
  borderColor: '#c9c9c9', borderWidth: 1, borderRadius: 3, backgroundColor: 'rgba(250,250,250,0.6)',
  textStyle: { fontSize: 8, color: '#333', fontFamily: FONT }, selectedMode: false, orient: 'vertical'
};
const legends = [
  Object.assign({}, legendBase, { left: 265, top: 84, itemGap: 2, padding: [3, 6, 3, 8], itemWidth: 6, itemHeight: 6,
    data: [{ name: '13.9 GHz', icon: 'triangle' }, { name: '15.4 GHz', icon: 'rect' }, { name: '16.9 GHz', icon: 'circle' }],
    textStyle: { fontSize: 8, color: '#333', fontFamily: FONT, padding: [0, 0, 0, 7] } }),
  Object.assign({}, legendBase, { right: 94, top: 159.5, padding: [3, 5, 3, 4], itemWidth: 17, itemHeight: 1.3,
    data: [{ name: 'Ks (2.2 μm )', icon: 'rect' }] }),
  Object.assign({}, legendBase, { right: 96, top: 230.5, itemGap: 3, padding: [3, 5, 3, 4], itemWidth: 17, itemHeight: 5,
    data: ["u' (0.36 μm )+1 Jy", "g' (0.48 μm )+0.5 Jy", "r' (0.63 μm )"] }),
  Object.assign({}, legendBase, { right: 96, top: 308, padding: [3, 5, 3, 4], itemWidth: 17, itemHeight: 1.3,
    data: [{ name: 'X-ray (3-79 keV)', icon: 'rect' }] })
];

const graphics = [];
function gtext(x, y, text, size, weight, align, family, color) {
  graphics.push({ type: 'text', x: x, y: y, silent: true, z: 50,
    style: { text: text, fontSize: size, fontWeight: weight, fontFamily: family || FONT, fill: color || '#111',
      textAlign: align, align: align, textVerticalAlign: 'middle', verticalAlign: 'middle' } });
}
// Fig 1 panel letters
gtext(263, 136.3, 'A', 11.5, 'bold', 'left', NARROW);
gtext(263, 163.5, 'B', 11.5, 'bold', 'left', NARROW);
gtext(263, 237.5, 'C', 11.5, 'bold', 'left', NARROW);
gtext(263, 313.5, 'D', 11.5, 'bold', 'left', NARROW);
// Fig 2 panel letters and band labels
gtext(157, 433, 'A', 12, 'bold', 'left', NARROW);
gtext(333, 433, 'B', 12, 'bold', 'left', NARROW);
gtext(157, 568, 'C', 12, 'bold', 'left', NARROW);
gtext(333, 568, 'D', 12, 'bold', 'left', NARROW);
gtext(157, 705, 'E', 12, 'bold', 'left', NARROW);
gtext(333, 705, 'F', 12, 'bold', 'left', NARROW);
gtext(294, 429, 'Ks', 7, 'normal', 'right', FONT, '#222');
gtext(469, 428, 'r′', 7, 'normal', 'right', FONT, '#222');
gtext(294, 566, 'g′', 7, 'normal', 'right', FONT, '#222');
gtext(469, 565, 'u′', 7, 'normal', 'right', FONT, '#222');
gtext(295, 700, '3-10 keV', 7, 'normal', 'right', FONT, '#222');
gtext(470, 700, '10-79 keV', 7, 'normal', 'right', FONT, '#222');
gtext(308, 833, 'Minutes since 57198.18 MJD', 9, 'normal', 'center', FONT, '#444');

const chart = echarts.init(document.getElementById('chart'), null, { renderer: 'svg', width: 820, height: 970 });
chart.setOption({
  animation: false,
  backgroundColor: 'transparent',
  textStyle: { fontFamily: FONT },
  grid: gridBoxes,
  xAxis: xAxes,
  yAxis: yAxes,
  legend: legends,
  series: series,
  graphic: { elements: graphics }
});
</script>
</body>
</html>
